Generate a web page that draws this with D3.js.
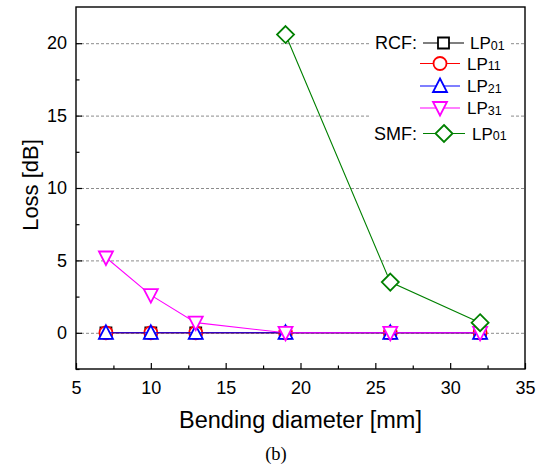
<!DOCTYPE html>
<html>
<head>
<meta charset="utf-8">
<script src="https://cdn.jsdelivr.net/npm/d3@7"></script>
<style>
  body { margin: 0; background: #fff; }
  text { font-family: "Liberation Sans", Arial, sans-serif; }
</style>
</head>
<body>
<script>
const width = 543;
const height = 467;
const margin = {top: 7, right: 18, bottom: 98, left: 76};

// data
const diameters = [7, 10, 13, 19, 26, 32];
const smfDiameters = [19, 26, 32];
const rcfLP01 = [0, 0, 0, 0, 0, 0];
const rcfLP11 = [0, 0, 0, 0, 0, 0];
const rcfLP21 = [0, 0, 0, 0, 0, 0];
const rcfLP31 = [5.2, 2.6, 0.7, 0, 0, 0];
const smfLP01 = [20.6, 3.5, 0.7];

const xTicks = [5, 10, 15, 20, 25, 30, 35];
const xMinor = [7.5, 12.5, 17.5, 22.5, 27.5, 32.5];
const yTicks = [0, 5, 10, 15, 20];
const yMinor = [-2.5, 2.5, 7.5, 12.5, 17.5];

const series = [
    {group: "RCF:", mode: "01", color: "#000000", symbol: "square", xs: diameters, ys: rcfLP01},
    {group: "", mode: "11", color: "#ff0000", symbol: "circle", xs: diameters, ys: rcfLP11},
    {group: "", mode: "21", color: "#0000ff", symbol: "triangleUp", xs: diameters, ys: rcfLP21},
    {group: "", mode: "31", color: "#ff00ff", symbol: "triangleDown", xs: diameters, ys: rcfLP31},
    {group: "SMF:", mode: "01", color: "#008000", symbol: "diamond", xs: smfDiameters, ys: smfLP01}
];

const innerW = width - margin.left - margin.right;
const innerH = height - margin.top - margin.bottom;

const x = d3.scaleLinear().domain([5, 35]).range([0, innerW]);
const y = d3.scaleLinear().domain([-2.5, 22.5]).range([innerH, 0]);

const svg = d3.select("body").append("svg")
    .attr("width", width)
    .attr("height", height);

const g = svg.append("g").attr("transform", `translate(${margin.left},${margin.top})`);

// marker outlines, centred on 0,0
function symbolPath(type) {
    switch (type) {
        case "square": return "M-5.5,-5.5H5.5V5.5H-5.5Z";
        case "circle": return "M6.5,0A6.5,6.5 0 1,1 -6.5,0A6.5,6.5 0 1,1 6.5,0Z";
        case "triangleUp": return "M0,-7.5L7,6L-7,6Z";
        case "triangleDown": return "M0,7.5L7,-6L-7,-6Z";
        case "diamond": return "M0,-8.5L8.5,0L0,8.5L-8.5,0Z";
    }
}

// dotted grid
g.append("g")
    .attr("class", "grid")
    .call(d3.axisLeft(y).tickValues(yTicks).tickSize(-innerW).tickFormat(""))
    .call(s => s.select(".domain").remove())
    .call(s => s.selectAll("line")
        .attr("stroke", "#8c8c8c")
        .attr("stroke-width", 1)
        .attr("stroke-dasharray", "3,2"));

// axes with inward ticks
g.append("g")
    .attr("transform", `translate(0,${innerH})`)
    .call(d3.axisBottom(x).tickValues(xTicks).tickSize(-6).tickPadding(12).tickFormat(d3.format("d")));
g.append("g")
    .attr("transform", `translate(0,${innerH})`)
    .call(d3.axisBottom(x).tickValues(xMinor).tickSize(-3.5).tickFormat(""));
g.append("g")
    .call(d3.axisLeft(y).tickValues(yTicks).tickSize(-6).tickPadding(9).tickFormat(d3.format("d")));
g.append("g")
    .call(d3.axisLeft(y).tickValues(yMinor).tickSize(-3.5).tickFormat(""));

g.selectAll(".domain").remove();
g.selectAll(".tick line").filter(function() { return !this.closest(".grid"); })
    .attr("stroke", "#000").attr("stroke-width", 1.2);
g.selectAll(".tick text")
    .attr("font-size", 18)
    .attr("font-family", "Liberation Sans, Arial, sans-serif")
    .attr("fill", "#000");

// frame
g.append("rect")
    .attr("width", innerW)
    .attr("height", innerH)
    .attr("fill", "none")
    .attr("stroke", "#000")
    .attr("stroke-width", 1.4);

// series
const line = d3.line().x(d => x(d[0])).y(d => y(d[1]));
series.forEach(s => {
    const pts = d3.zip(s.xs, s.ys);
    const sg = g.append("g");
    sg.append("path")
        .datum(pts)
        .attr("d", line)
        .attr("fill", "none")
        .attr("stroke", s.color)
        .attr("stroke-width", 1.1);
    sg.selectAll("path.marker")
        .data(pts)
        .join("path")
        .attr("class", "marker")
        .attr("transform", d => `translate(${x(d[0])},${y(d[1])})`)
        .attr("d", symbolPath(s.symbol))
        .attr("fill", "#fff")
        .attr("stroke", s.color)
        .attr("stroke-width", 1.8);
});

// legend
const legendRows = [43, 63.5, 86, 108, 133.5];
const legendLineX = [[423, 464], [420, 460], [420, 460], [420, 460], [423, 465]];
const legendTextX = [470, 467, 467, 467, 472];

const legend = svg.append("g");
legend.append("rect")
    .attr("x", 370).attr("y", 29)
    .attr("width", 141).attr("height", 118)
    .attr("fill", "#fff");

series.forEach((s, i) => {
    const ly = legendRows[i];
    const [x0, x1] = legendLineX[i];
    if (s.group) {
        legend.append("text")
            .attr("x", 417).attr("y", ly + 6)
            .attr("text-anchor", "end")
            .attr("font-size", 18)
            .text(s.group);
    }
    legend.append("line")
        .attr("x1", x0).attr("x2", x1)
        .attr("y1", ly).attr("y2", ly)
        .attr("stroke", s.color).attr("stroke-width", 1.1);
    legend.append("path")
        .attr("transform", `translate(${(x0 + x1) / 2},${ly})`)
        .attr("d", symbolPath(s.symbol))
        .attr("fill", "#fff")
        .attr("stroke", s.color)
        .attr("stroke-width", 1.8);
    const t = legend.append("text")
        .attr("x", legendTextX[i]).attr("y", ly + 6)
        .attr("font-size", 17);
    t.append("tspan").text("LP");
    t.append("tspan").attr("font-size", 12.5).attr("dy", 0.5).text(s.mode);
});

// axis titles
svg.append("text")
    .attr("x", margin.left + innerW / 2)
    .attr("y", 428)
    .attr("text-anchor", "middle")
    .attr("font-size", 23.5)
    .text("Bending diameter [mm]");

svg.append("text")
    .attr("transform", `translate(38,${margin.top + innerH / 2 - 3}) rotate(-90)`)
    .attr("text-anchor", "middle")
    .attr("font-size", 22)
    .text("Loss [dB]");

svg.append("text")
    .attr("x", 276)
    .attr("y", 460)
    .attr("text-anchor", "middle")
    .style("font-family", "Liberation Serif, Times New Roman, serif")
    .attr("font-size", 18.5)
    .text("(b)");
</script>
</body>
</html>
